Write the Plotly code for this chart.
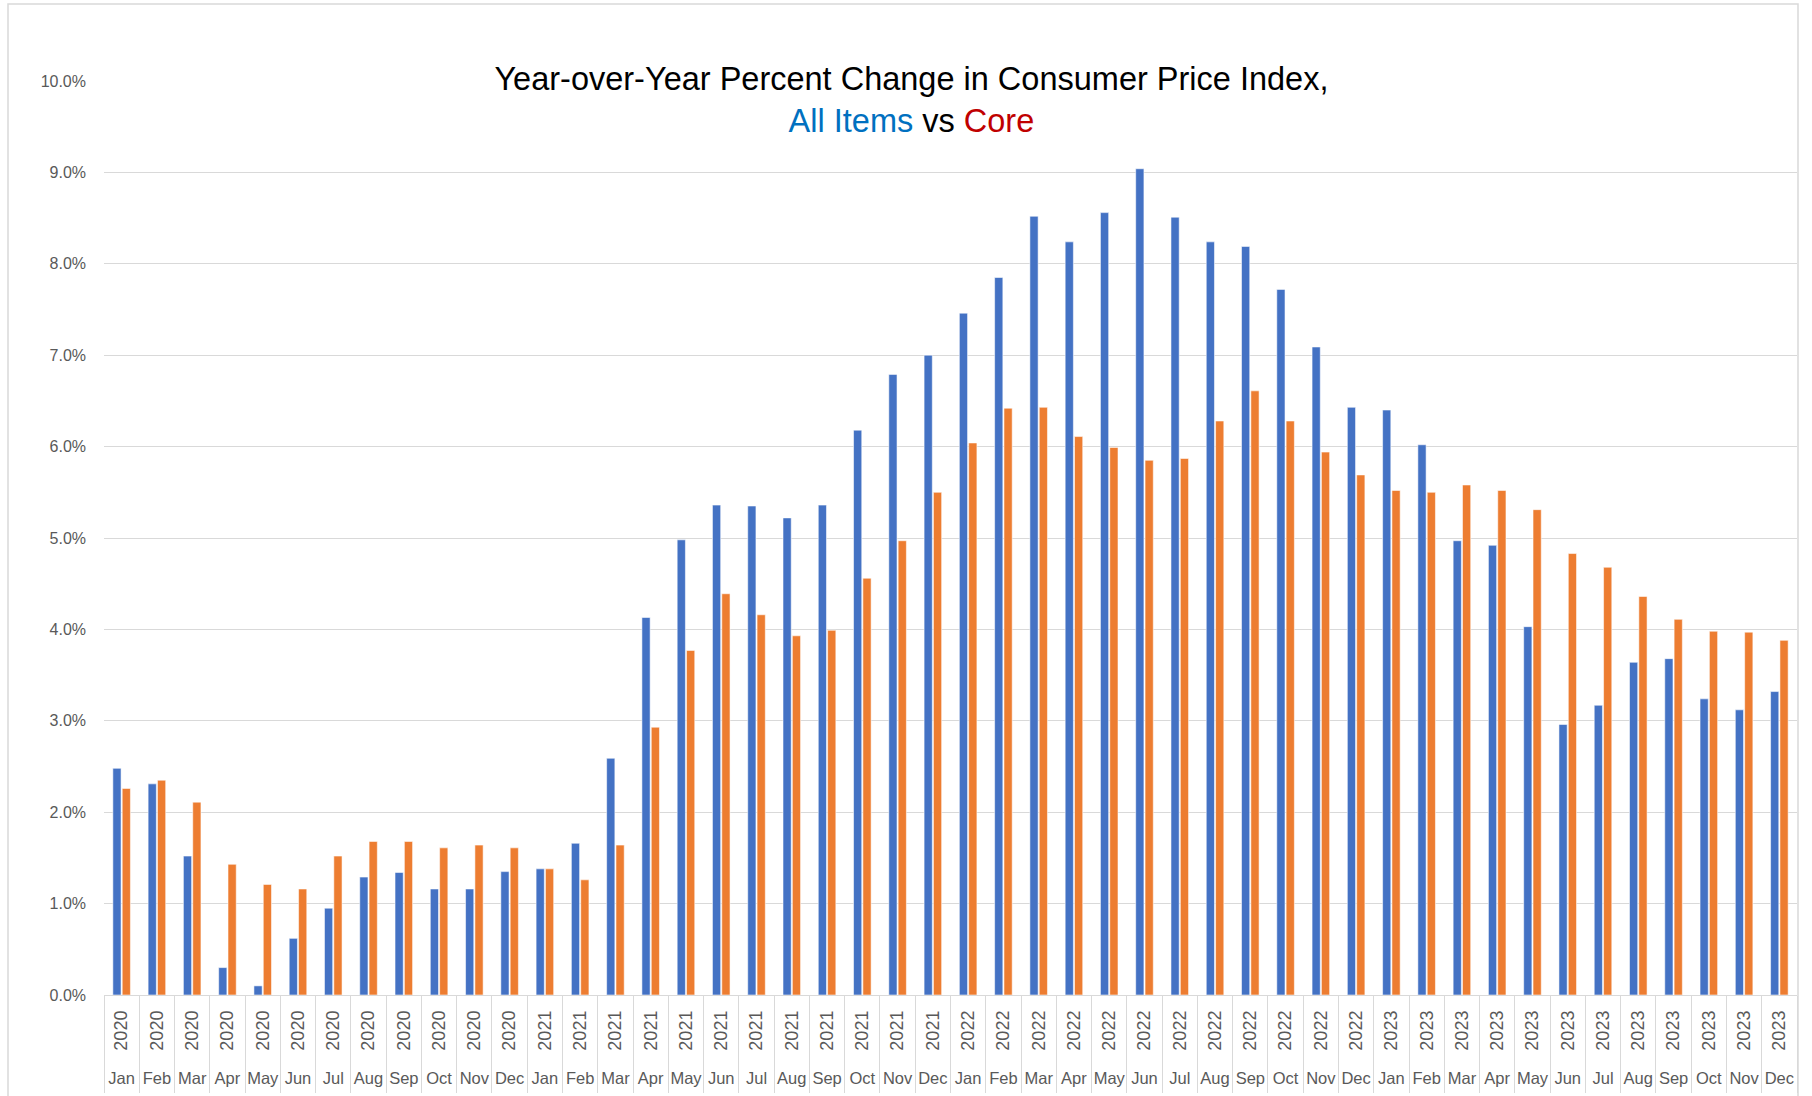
import plotly.graph_objects as go

months = ["Jan", "Feb", "Mar", "Apr", "May", "Jun", "Jul", "Aug", "Sep", "Oct", "Nov", "Dec"]
years = ["2020", "2021", "2022", "2023"]

month_labels = [m for y in years for m in months]
year_labels = [y for y in years for m in months]
categories = [f"{m} {y}" for y in years for m in months]

all_items = [
    2.48, 2.31, 1.52, 0.30, 0.10, 0.62, 0.95, 1.29, 1.34, 1.16, 1.16, 1.35,
    1.38, 1.66, 2.59, 4.13, 4.98, 5.36, 5.35, 5.22, 5.36, 6.18, 6.79, 7.00,
    7.46, 7.85, 8.52, 8.24, 8.56, 9.04, 8.51, 8.24, 8.19, 7.72, 7.09, 6.43,
    6.40, 6.02, 4.97, 4.92, 4.03, 2.96, 3.17, 3.64, 3.68, 3.24, 3.12, 3.32,
]
core = [
    2.26, 2.35, 2.11, 1.43, 1.21, 1.16, 1.52, 1.68, 1.68, 1.61, 1.64, 1.61,
    1.38, 1.26, 1.64, 2.93, 3.77, 4.39, 4.16, 3.93, 3.99, 4.56, 4.97, 5.50,
    6.04, 6.42, 6.43, 6.11, 5.99, 5.85, 5.87, 6.28, 6.61, 6.28, 5.94, 5.69,
    5.52, 5.50, 5.58, 5.52, 5.31, 4.83, 4.68, 4.36, 4.11, 3.98, 3.97, 3.88,
]

W, H = 1812, 1096
ML, MR, MT, MB = 104, 15, 81, 101

FONT = "Liberation Sans, Arial, sans-serif"
GRAY = "#595959"
GRID = "#D9D9D9"

fig = go.Figure()
fig.add_trace(go.Bar(x=categories, y=all_items, name="All Items",
                     marker=dict(color="#4472C4", line=dict(color="rgba(255,255,255,0.55)", width=1))))
fig.add_trace(go.Bar(x=categories, y=core, name="Core",
                     marker=dict(color="#ED7D31", line=dict(color="rgba(255,255,255,0.55)", width=1))))

idx = list(range(len(categories)))
rng = [-0.5, len(categories) - 0.5]

# invisible carriers so the year / month label axes are drawn
fig.add_trace(go.Scatter(x=idx, y=all_items, xaxis="x2", yaxis="y", mode="markers",
                         marker=dict(opacity=0), hoverinfo="skip", showlegend=False))
fig.add_trace(go.Scatter(x=idx, y=core, xaxis="x3", yaxis="y", mode="markers",
                         marker=dict(opacity=0), hoverinfo="skip", showlegend=False))

fig.update_layout(
    width=W, height=H,
    margin=dict(l=ML, r=MR, t=MT, b=MB, autoexpand=False),
    paper_bgcolor="white", plot_bgcolor="white",
    showlegend=False,
    barmode="group", bargap=0.47, bargroupgap=0.12,
    title=dict(
        text="Year-over-Year Percent Change in Consumer Price Index,<br>"
             "<span style='color:#0070C0'>All Items</span> vs "
             "<span style='color:#C00000'>Core</span>",
        x=0.503, xanchor="center", xref="container",
        y=1 - 90 / H, yanchor="middle", yref="container",
        font=dict(family=FONT, size=32.5, color="#000000"),
    ),
    yaxis=dict(
        range=[0, 10], dtick=1, tickformat=".1f", ticksuffix="%",
        showgrid=True, gridcolor=GRID, gridwidth=1,
        zeroline=False, showline=False, automargin=False,
        tickfont=dict(family=FONT, size=16, color=GRAY),
        ticklabelstandoff=17,
    ),
    xaxis=dict(
        type="category",
        showticklabels=False, automargin=False,
        ticks="outside", tickson="boundaries", ticklen=97,
        tickcolor=GRID, tickwidth=1,
        showline=True, linecolor=GRID, linewidth=1,
        showgrid=False,
    ),
    xaxis2=dict(
        type="linear", overlaying="x", anchor="free", position=0, side="bottom",
        range=rng, tickmode="array", tickvals=idx, ticktext=year_labels,
        tickangle=-90, ticks="", showline=False, showgrid=False, zeroline=False,
        automargin=False,
        tickfont=dict(family=FONT, size=18, color=GRAY),
        ticklabelstandoff=11,
    ),
    xaxis3=dict(
        type="linear", overlaying="x", anchor="free", position=0, side="bottom",
        range=rng, tickmode="array", tickvals=idx, ticktext=month_labels,
        ticks="", showline=False, showgrid=False, zeroline=False,
        automargin=False,
        tickfont=dict(family=FONT, size=16.5, color=GRAY),
        ticklabelstandoff=71,
    ),
)

# thin chart-area border
pw = W - ML - MR
ph = H - MT - MB
fig.add_shape(type="rect", xref="paper", yref="paper",
              x0=(8 - ML) / pw, x1=(1798 - ML) / pw,
              y0=(H - MB - 1110) / ph, y1=(H - MB - 4) / ph,
              line=dict(color=GRID, width=1.5), fillcolor="rgba(0,0,0,0)", layer="below")

fig.write_html("out.html", config={"displayModeBar": False},
               post_script="document.body.style.margin='0px';")
